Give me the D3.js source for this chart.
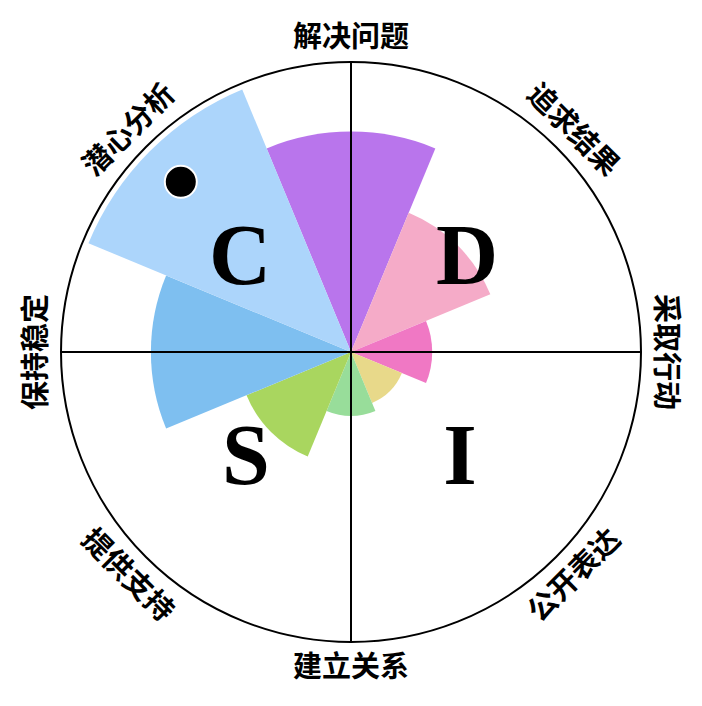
<!DOCTYPE html>
<html>
<head>
<meta charset="utf-8">
<script src="https://cdn.jsdelivr.net/npm/d3@7"></script>
<style>
  html, body { margin: 0; padding: 0; background: #fff; }
</style>
</head>
<body>
<script>
// traits, clockwise from the top
var traits = ["解决问题", "追求结果", "采取行动", "公开表达", "建立关系", "提供支持", "保持稳定", "潜心分析"];
var scores = [76, 52, 28, 19, 22, 39, 69, 98];
var colors = ["#b975ec", "#f5abc8", "#f078c4", "#e8d98a", "#98dd9a", "#a9d65f", "#7ebff0", "#acd5fb"];
var quadrants = ["D", "I", "S", "C"];
var marker = {trait: "潜心分析", score: 83};

var width = 702, height = 706;
var cx = 351, cy = 352, radius = 290;

const svg = d3.select("body")
    .append("svg")
    .attr("width", width)
    .attr("height", height)
    .attr("viewBox", [0, 0, width, height]);

const g = svg.append("g").attr("transform", `translate(${cx},${cy})`);

var rscale = d3.scaleLinear().domain([0, 100]).range([0, radius]);
var ascale = d3.scaleBand().domain(traits).range([-Math.PI / 8, 2 * Math.PI - Math.PI / 8]);

var arc = d3.arc()
    .innerRadius(0)
    .outerRadius(d => rscale(d.score))
    .startAngle(d => ascale(d.trait))
    .endAngle(d => ascale(d.trait) + ascale.bandwidth());

var data = traits.map((t, i) => ({trait: t, score: scores[i], color: colors[i]}));

g.selectAll("path.wedge")
    .data(data)
    .join("path")
    .attr("class", "wedge")
    .attr("fill", d => d.color)
    .attr("d", arc);

// outer circle and cross
g.append("circle")
    .attr("r", radius)
    .attr("fill", "none")
    .attr("stroke", "#000")
    .attr("stroke-width", 2);

g.append("line").attr("x1", 0).attr("x2", 0).attr("y1", -radius).attr("y2", radius)
    .attr("stroke", "#000").attr("stroke-width", 2);
g.append("line").attr("y1", 0).attr("y2", 0).attr("x1", -radius).attr("x2", radius)
    .attr("stroke", "#000").attr("stroke-width", 2);

// quadrant letters (glyph centres, relative to the middle)
var letterPos = {D: [116, -97], I: [109, 103], S: [-105, 103], C: [-111, -97]};
g.selectAll("text.quad")
    .data(quadrants)
    .join("text")
    .attr("class", "quad")
    .attr("x", d => letterPos[d][0])
    .attr("y", d => letterPos[d][1] + 29)
    .attr("text-anchor", "middle")
    .attr("font-family", "'Liberation Serif', 'Times New Roman', serif")
    .attr("font-weight", "bold")
    .attr("font-size", 86)
    .text(d => d);

// trait labels around the circle
var labelR = 315;
g.selectAll("text.label")
    .data(traits)
    .join("text")
    .attr("class", "label")
    .attr("transform", function(d) {
        var a = ascale(d) + ascale.bandwidth() / 2;
        var x = labelR * Math.sin(a), y = -labelR * Math.cos(a);
        var deg = a * 180 / Math.PI;
        if (deg > 100 && deg < 260) deg -= 180;
        return `translate(${x},${y}) rotate(${deg})`;
    })
    .attr("dy", "0.36em")
    .attr("text-anchor", "middle")
    .attr("font-family", "'Noto Sans CJK SC', sans-serif")
    .attr("font-weight", "bold")
    .attr("font-size", 29)
    .text(d => d);

// score marker
var ma = ascale(marker.trait) + ascale.bandwidth() / 2;
g.append("circle")
    .attr("cx", rscale(marker.score) * Math.sin(ma))
    .attr("cy", -rscale(marker.score) * Math.cos(ma))
    .attr("r", 16)
    .attr("fill", "#000")
    .attr("stroke", "#fff")
    .attr("stroke-width", 2);
</script>
</body>
</html>
